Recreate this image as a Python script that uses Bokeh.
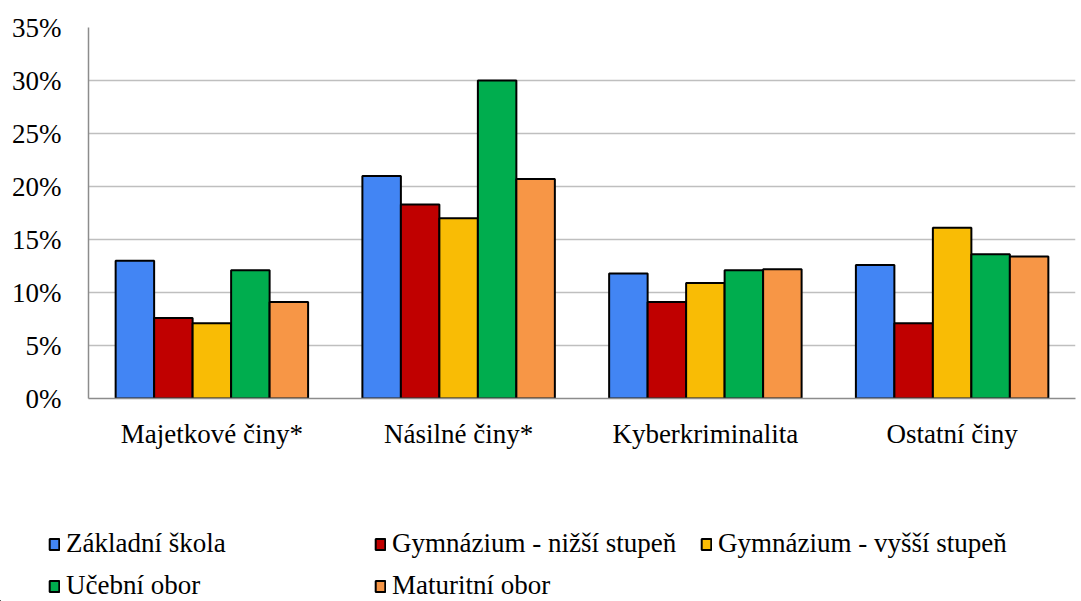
from bokeh.plotting import figure
from bokeh.models import (ColumnDataSource, FactorRange, Range1d, FixedTicker,
                          PrintfTickFormatter, Legend, LegendItem)
from bokeh.transform import dodge
from bokeh.embed import file_html
from bokeh.resources import INLINE

categories = ["Majetkové činy*", "Násilné činy*", "Kyberkriminalita", "Ostatní činy"]
zakladni_skola = [13.0, 21.0, 11.8, 12.6]
gym_nizsi = [7.6, 18.3, 9.1, 7.1]
gym_vyssi = [7.1, 17.0, 10.9, 16.1]
ucebni_obor = [12.1, 30.0, 12.1, 13.6]
maturitni_obor = [9.1, 20.7, 12.2, 13.4]

series_labels = ["Základní škola", "Gymnázium - nižší stupeň", "Gymnázium - vyšší stupeň",
                 "Učební obor", "Maturitní obor"]
series_keys = ["zs", "gn", "gv", "uo", "mo"]
colors = ["#4285F4", "#C00000", "#F9BC05", "#00AD4E", "#F79646"]
y_ticks = [0, 5, 10, 15, 20, 25, 30, 35]

FONT = "Liberation Serif"

src = ColumnDataSource(dict(cat=categories, zs=zakladni_skola, gn=gym_nizsi,
                            gv=gym_vyssi, uo=ucebni_obor, mo=maturitni_obor))

p = figure(x_range=FactorRange(*categories), y_range=Range1d(0, 35),
           width=1076, height=460, output_backend="svg", toolbar_location=None,
           min_border_left=88, min_border_right=1, min_border_top=27,
           min_border_bottom=62)
p.outline_line_color = None

bw = 0.156
offsets = [-2 * bw, -bw, 0, bw, 2 * bw]
for key, off, col in zip(series_keys, offsets, colors):
    p.vbar(x=dodge("cat", off, range=p.x_range), top=key, width=bw, source=src,
           fill_color=col, line_color="black", line_width=2)

p.yaxis.ticker = FixedTicker(ticks=y_ticks)
p.yaxis.formatter = PrintfTickFormatter(format="%d%%")
for ax in (p.xaxis, p.yaxis):
    ax.major_tick_out = 0
    ax.major_tick_in = 0
    ax.minor_tick_out = 0
    ax.minor_tick_in = 0
    ax.axis_line_color = "#8C8C8C"
    ax.axis_line_width = 1.5
    ax.major_label_text_font = FONT
    ax.major_label_text_font_size = "27px"
    ax.major_label_text_color = "black"
p.yaxis.major_label_standoff = 27
p.xaxis.major_label_standoff = 20

p.xgrid.grid_line_color = None
p.ygrid.ticker = FixedTicker(ticks=y_ticks)
p.ygrid.grid_line_color = "#BFBFBF"
p.ygrid.grid_line_width = 1.5

# legend panel (swatch renderers sit outside the visible range)
p2 = figure(width=1076, height=141, output_backend="svg", toolbar_location=None,
            x_range=Range1d(0, 1), y_range=Range1d(0, 1),
            x_axis_location=None, y_axis_location=None,
            min_border_left=0, min_border_right=0, min_border_top=0,
            min_border_bottom=0)
p2.outline_line_color = None
p2.grid.grid_line_color = None
hidden = ColumnDataSource(dict(x=[-1000], top=[-1000]))
legend_pos = [(48, 42), (374, 42), (700, 42), (48, 0), (374, 0)]
for lbl, col, pos in zip(series_labels, colors, legend_pos):
    r = p2.vbar(x="x", top="top", bottom=-1001, width=0.1, source=hidden,
                fill_color=col, line_color="black", line_width=2)
    leg = Legend(items=[LegendItem(label=lbl, renderers=[r])], location=pos,
                 orientation="horizontal", padding=0, margin=0, spacing=0,
                 border_line_color=None, background_fill_alpha=0,
                 glyph_width=12, glyph_height=14, label_standoff=6,
                 label_text_font=FONT, label_text_font_size="27px",
                 label_text_color="black")
    p2.add_layout(leg)

open("out.html", "w").write(file_html([p, p2], INLINE))
